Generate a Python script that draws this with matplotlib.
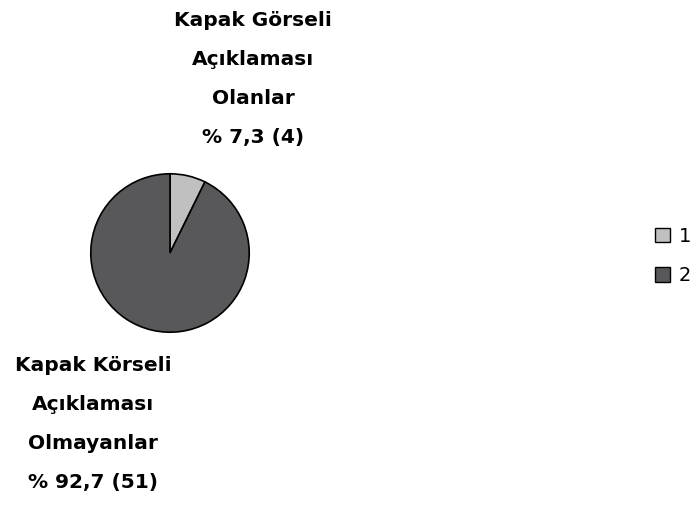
import matplotlib.pyplot as plt
from matplotlib.patches import Patch

# Kapak görseli açıklaması olan / olmayan kitap sayıları
legend_keys = ["1", "2"]
counts = [4, 51]
label_names = ["Kapak Görseli\nAçıklaması\nOlanlar", "Kapak Körseli\nAçıklaması\nOlmayanlar"]
colors = ["#c0c0c0", "#58585a"]

total = sum(counts)
labels = [f"{name}\n% {c / total * 100:.1f} ({c})".replace(".", ",")
          for name, c in zip(label_names, counts)]

fig = plt.figure(figsize=(6.96, 5.14), dpi=100)
ax = fig.add_axes([90 / 696, (514 - 333) / 514, 160 / 696, 160 / 514])
wedges, _ = ax.pie(counts, colors=colors, startangle=90, counterclock=False,
                   wedgeprops=dict(edgecolor="black", linewidth=1.2))
ax.set_xlim(-1.01, 1.01)
ax.set_ylim(-1.01, 1.01)

label_style = dict(ha="center", va="center", fontsize=14.5, fontweight="bold",
                   linespacing=2.35, family="DejaVu Sans")
fig.text(253 / 696, 1 - 79 / 514, labels[0], **label_style)
fig.text(93 / 696, 1 - 424 / 514, labels[1], **label_style)

handles = [Patch(facecolor=c, edgecolor="black", linewidth=1.0) for c in colors]
fig.legend(handles, legend_keys, loc="center left", bbox_to_anchor=(647 / 696, 1 - 256 / 514),
           frameon=False, fontsize=14, handlelength=0.8, handleheight=0.8,
           handletextpad=0.45, labelspacing=1.05, borderaxespad=0)

fig.savefig("out.png", dpi=100)
